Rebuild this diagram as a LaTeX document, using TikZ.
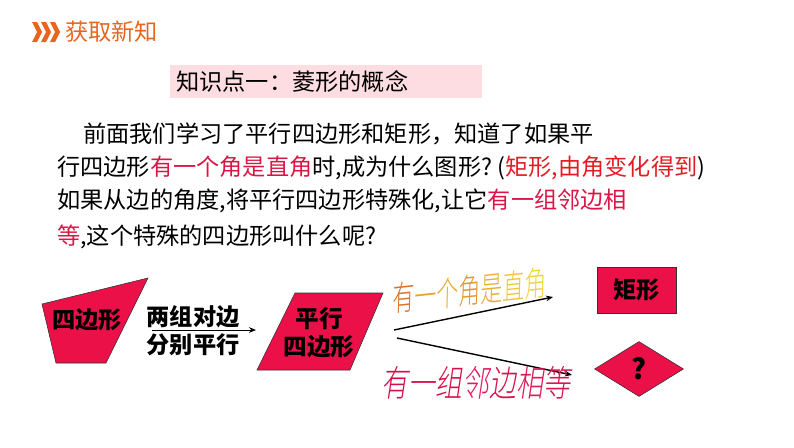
\documentclass[tikz,border=0pt]{standalone}
\usepackage{fontspec}
\setmainfont{Noto Sans CJK SC}
\newfontfamily\artfont[FakeSlant=0.2]{Noto Sans CJK SC Light}
\usepackage{tikz}
\usepackage{xcolor}
\usetikzlibrary{arrows.meta,positioning,shapes.geometric}
\definecolor{hdrorange}{RGB}{232,101,30}
\definecolor{titlepink}{RGB}{253,220,226}
\definecolor{crim}{RGB}{218,22,70}
\definecolor{redtxt}{RGB}{226,28,36}
\definecolor{shapefill}{RGB}{235,16,72}
\newcommand{\bodysize}{\fontsize{16.5}{20}\selectfont}

\begin{document}
\begin{tikzpicture}[
  x=0.025cm, y=-0.025cm,
  every node/.style={inner sep=0pt},
  body/.style={anchor=west, font=\bodysize},
  shapebox/.style={draw=black!80, line width=0.4pt, fill=shapefill},
  shapetxt/.style={font=\bodysize\bfseries, align=center},
  arr/.style={-{Stealth[length=5pt,width=4pt]}, line width=1pt},
]
\useasboundingbox (0,0) rectangle (794,447);
% Header
\foreach \cx in {32,41,50}
  \fill[hdrorange] (\cx,22) -- (\cx+5,22) -- (\cx+10,32) -- (\cx+5,42)
    -- (\cx,42) -- (\cx+5,32) -- cycle;
\node[body, text=hdrorange] (head) at (65,32) {获取新知};
% Title bar
\node[anchor=west, fill=titlepink, inner xsep=0.15cm, text width=7.5cm,
      minimum height=0.825cm, align=left, font=\bodysize] (title) at (170,81.5)
  {知识点一：菱形的概念};

% Question text
\node[body] (line1) at (83,134) {前面我们学习了平行四边形和矩形，知道了如果平};
\node[body] (line2) at (57,168)
  {行四边形\textcolor{crim}{有一个角是直角}时,成为什么图形?~(\textcolor{redtxt}{矩形,由角变化得到})};
\node[body] (line3) at (57,201)
  {如果从边的角度,将平行四边形特殊化,让它\textcolor{crim}{有一组邻边相}};
\node[body] (line4) at (57,237) {\textcolor{crim}{等},这个特殊的四边形叫什么呢?};

% Quadrilateral -> parallelogram
\draw[shapebox] (42,304) -- (148,278) -- (106,363) -- (56,363) -- cycle;
\node[shapetxt] (quad) at (87,320) {四边形};
\coordinate (a1) at (152,330);
\coordinate (a2) at (256,330);
\draw[-{Stealth[length=5pt,width=4pt]}, line width=0.7pt] (a1) -- (a2);
\node[shapetxt, font=\fontsize{16.5}{19.9}\selectfont\bfseries] (ways) at (193,331)
  {两组对边\\分别平行};
\draw[shapebox] (257,370) -- (295,293) -- (383,293) -- (350,370) -- cycle;
\node[shapetxt, font=\fontsize{16.8}{19.9}\selectfont\bfseries] (para) at (319,333)
  {平行\\四边形};

% Two ways on
\coordinate (b0) at (394,330);
\coordinate (b1) at (553,297);
\coordinate (c0) at (397,338);
\coordinate (c1) at (572,375);
\draw[arr] (b0) -- (b1);
\draw[arr] (c0) -- (c1);
\node[rotate=6, xscale=0.85, yscale=1.3, font=\artfont\fontsize{18.5}{20}\selectfont] (angle) at (468,291)
  {\textcolor[RGB]{222,115,40}{有}\textcolor[RGB]{232,160,45}{一}\textcolor[RGB]{236,170,50}{个}\textcolor[RGB]{228,150,45}{角}\textcolor[RGB]{232,172,52}{是}\textcolor[RGB]{238,198,60}{直}\textcolor[RGB]{240,212,70}{角}};
\node[xscale=0.9, yscale=1.2, font=\artfont\fontsize{21.3}{22}\selectfont] (side) at (476,383)
  {\textcolor[RGB]{212,14,72}{有}\textcolor[RGB]{218,22,82}{一}\textcolor[RGB]{214,16,74}{组}\textcolor[RGB]{222,30,92}{邻}\textcolor[RGB]{215,18,76}{边}\textcolor[RGB]{220,26,88}{相}\textcolor[RGB]{216,20,80}{等}};

% Results
\node[shapebox, minimum width=1.975cm, minimum height=1.15cm, font=\bodysize\bfseries]
  (rect) at (636.5,290) {矩形};
\node[shapebox, diamond, minimum width=2.225cm, minimum height=1.375cm,
      font=\rmfamily\fontsize{20}{20}\selectfont\bfseries] (rhomb) at (639,369) {?};
\end{tikzpicture}
\end{document}
